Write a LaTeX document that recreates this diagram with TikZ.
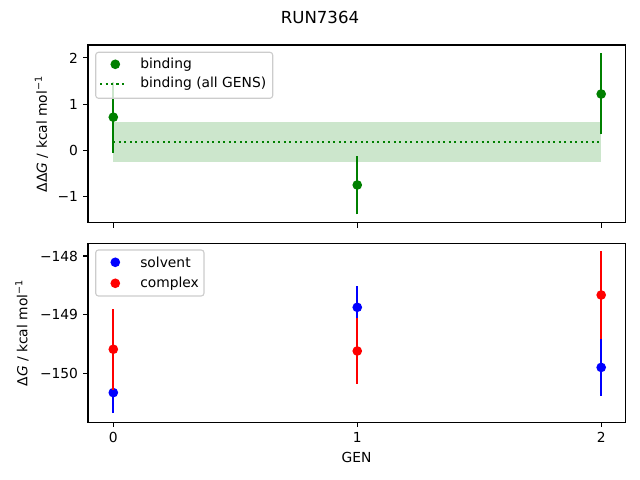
\documentclass[tikz,border=0pt]{standalone}
\usepackage{fontspec}
\setmainfont{DejaVu Sans}
\definecolor{mplgreen}{HTML}{008000}
\definecolor{mplblue}{HTML}{0000FF}
\definecolor{mplred}{HTML}{FF0000}
\definecolor{legendedge}{HTML}{CCCCCC}
\tikzset{
  axisframe/.style={line width=0.8pt},
  tickmark/.style={line width=0.8pt},
  ticklabel/.style={inner sep=0pt},
  errbar/.style={line width=1.5pt},
  datapt/.style={circle, fill, inner sep=0pt, minimum size=7pt},
  mpldotted/.style={line width=1.5pt, dash pattern=on 1.5pt off 2.475pt},
  legendbox/.style={draw=legendedge, fill=white, fill opacity=0.8, line width=0.8pt, rounded corners=2pt},
  legendtext/.style={anchor=west, inner sep=0pt}
}
\begin{document}
\begin{tikzpicture}[x=0.0254cm, y=-0.0254cm]
\useasboundingbox (0,0) rectangle (640,480);

\node[font=\large] (title) at (320,17) {RUN7364};

% top panel: binding
\begin{scope}[shift={(113.3,150.5)}, x=6.1976cm, y=1.176cm]
\fill[mplgreen, opacity=0.2] (0,-0.24) rectangle (2,0.62);
\draw[mplgreen, mpldotted] (0,0.19) -- (2,0.19);
\draw[errbar, mplgreen] (0,-0.05) -- (0,1.49);
\draw[errbar, mplgreen] (1,-1.38) -- (1,-0.12);
\draw[errbar, mplgreen] (2,0.35) -- (2,2.10);
\node[datapt, mplgreen] (b0) at (0,0.72) {};
\node[datapt, mplgreen] (b1) at (1,-0.745) {};
\node[datapt, mplgreen] (b2) at (2,1.22) {};
\end{scope}
\draw[axisframe] (88,45) rectangle (625.3,222.7);
\draw[tickmark] (83.2,57.9) -- (88,57.9);
\draw[tickmark] (83.2,104.2) -- (88,104.2);
\draw[tickmark] (83.2,150.5) -- (88,150.5);
\draw[tickmark] (83.2,196.8) -- (88,196.8);
\draw[tickmark] (113.3,222.7) -- (113.3,227.6);
\draw[tickmark] (357.3,222.7) -- (357.3,227.6);
\draw[tickmark] (601.3,222.7) -- (601.3,227.6);
\node[ticklabel, anchor=east] (ty2) at (78.3,57.9) {2};
\node[ticklabel, anchor=east] (ty1) at (78.3,104.2) {1};
\node[ticklabel, anchor=east] (ty0) at (78.3,150.5) {0};
\node[ticklabel, anchor=east] (tym1) at (78.3,196.8) {−1};
\node[rotate=90, inner sep=0pt] (ylabtop) at (41.5,134) {ΔΔ\textit{G} / kcal mol\textsuperscript{−1}};

% top legend
\draw[legendbox] (95.7,52.3) rectangle (272.7,98.3);
\node[datapt, mplgreen] (legb) at (115.3,64.3) {};
\node[legendtext] (legbtext) at (140,64.3) {binding};
\coordinate (legl0) at (100,83.7);
\coordinate (legl1) at (125,83.7);
\draw[mplgreen, mpldotted] (legl0) -- (legl1);
\node[legendtext] (legltext) at (140,83.7) {binding (all GENS)};

% bottom panel: solvent and complex
\begin{scope}[shift={(113.3,314.65)}, x=6.1976cm, y=1.4897cm]
\draw[errbar, mplblue] (0,-1.68) -- (0,-0.98);
\draw[errbar, mplblue] (1,-0.24) -- (1,0.49);
\draw[errbar, mplblue] (2,-1.38) -- (2,-0.42);
\node[datapt, mplblue] (s0) at (0,-1.33) {};
\node[datapt, mplblue] (s1) at (1,0.125) {};
\node[datapt, mplblue] (s2) at (2,-0.90) {};
\draw[errbar, mplred] (0,-1.28) -- (0,0.10);
\draw[errbar, mplred] (1,-1.18) -- (1,-0.06);
\draw[errbar, mplred] (2,-0.42) -- (2,1.09);
\node[datapt, mplred] (c0) at (0,-0.59) {};
\node[datapt, mplred] (c1) at (1,-0.62) {};
\node[datapt, mplred] (c2) at (2,0.335) {};
\end{scope}
\draw[axisframe] (88,243.3) rectangle (625.3,422.3);
\draw[tickmark] (83.2,256) -- (88,256);
\draw[tickmark] (83.2,314.65) -- (88,314.65);
\draw[tickmark] (83.2,373.3) -- (88,373.3);
\draw[tickmark] (113.3,422.3) -- (113.3,427.2);
\draw[tickmark] (357.3,422.3) -- (357.3,427.2);
\draw[tickmark] (601.3,422.3) -- (601.3,427.2);
\node[ticklabel, anchor=east] (tym148) at (78.3,256) {−148};
\node[ticklabel, anchor=east] (tym149) at (78.3,314.65) {−149};
\node[ticklabel, anchor=east] (tym150) at (78.3,373.3) {−150};
\node[ticklabel, anchor=north] (tx0) at (113.3,432) {0};
\node[ticklabel, anchor=north] (tx1) at (357.3,432) {1};
\node[ticklabel, anchor=north] (tx2) at (601.3,432) {2};
\node[inner sep=0pt] (xlab) at (356.5,457.5) {GEN};
\node[rotate=90, inner sep=0pt] (ylabbot) at (22,333) {Δ\textit{G} / kcal mol\textsuperscript{−1}};

% bottom legend
\draw[legendbox] (95.7,250) rectangle (204,296);
\node[datapt, mplblue] (legs) at (115.3,262.3) {};
\node[legendtext] (legstext) at (140,262.3) {solvent};
\node[datapt, mplred] (legc) at (115.3,283.3) {};
\node[legendtext] (legctext) at (140,283.3) {complex};
\end{tikzpicture}
\end{document}
